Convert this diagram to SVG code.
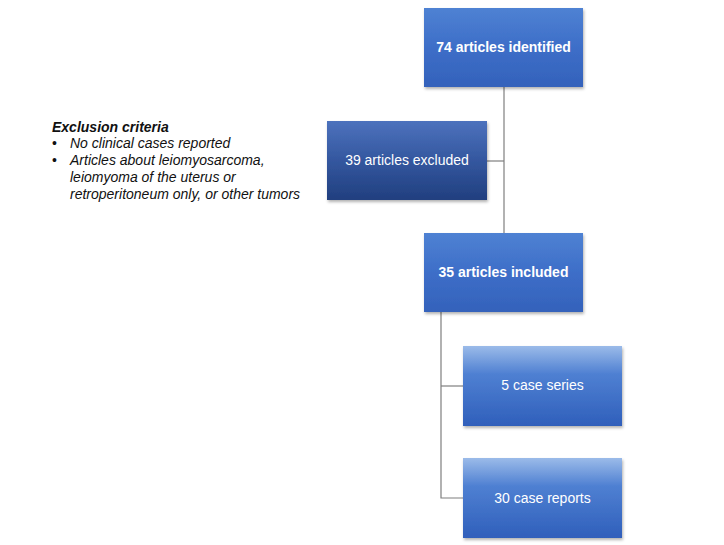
<svg xmlns="http://www.w3.org/2000/svg" width="724" height="545" viewBox="0 0 724 545">
<style>
.lbl{font-family:"Liberation Sans",Arial,sans-serif;font-size:14px;fill:#fff;text-anchor:middle}
.b{font-weight:bold}
.crit{font-family:"Liberation Sans",Arial,sans-serif;font-size:14px;fill:#111;font-style:italic}
.conn{stroke:#7f7f7f;stroke-width:1.2;fill:none}
</style>
<defs>
<linearGradient id="gA" x1="0" y1="0" x2="0" y2="1">
<stop offset="0" stop-color="#4f82d3"/>
<stop offset="0.5" stop-color="#3d6ec8"/>
<stop offset="1" stop-color="#3462bb"/>
</linearGradient>
<linearGradient id="gB" x1="0" y1="0" x2="0" y2="1">
<stop offset="0" stop-color="#4d72bd"/>
<stop offset="0.5" stop-color="#34579f"/>
<stop offset="1" stop-color="#213f7f"/>
</linearGradient>
<linearGradient id="gC" x1="0" y1="0" x2="0" y2="1">
<stop offset="0" stop-color="#9bbbe9"/>
<stop offset="0.35" stop-color="#4f80d2"/>
<stop offset="1" stop-color="#2f5fbb"/>
</linearGradient>
<filter id="sh" x="-10%" y="-10%" width="120%" height="125%">
<feDropShadow dx="1" dy="2" stdDeviation="1.5" flood-color="#000" flood-opacity="0.3"/>
</filter>
</defs>
<g id="connectors">
<path class="conn" d="M504 87 V233"/>
<path class="conn" d="M487 161 H504"/>
<path class="conn" d="M441 312 V498 H463"/>
<path class="conn" d="M441 386 H463"/>
</g>
<g id="n1">
<rect x="424" y="8" width="159" height="79" fill="url(#gA)" filter="url(#sh)"/>
<text class="lbl b" x="503.5" y="52">74 articles identified</text>
</g>
<g id="n2">
<rect x="327" y="121" width="160" height="79" fill="url(#gB)" filter="url(#sh)"/>
<text class="lbl" x="407" y="165">39 articles excluded</text>
</g>
<g id="n3">
<rect x="424" y="233" width="159" height="79" fill="url(#gA)" filter="url(#sh)"/>
<text class="lbl b" x="503.5" y="277">35 articles included</text>
</g>
<g id="n4">
<rect x="463" y="346" width="159" height="80" fill="url(#gC)" filter="url(#sh)"/>
<text class="lbl" x="542.5" y="390">5 case series</text>
</g>
<g id="n5">
<rect x="463" y="458" width="159" height="80" fill="url(#gC)" filter="url(#sh)"/>
<text class="lbl" x="542.5" y="503">30 case reports</text>
</g>
<g id="criteria">
<text class="crit" x="52" y="132" font-weight="bold">Exclusion criteria</text>
<text class="crit" x="52" y="148" font-style="normal" style="font-style:normal">•</text>
<text class="crit" x="70" y="148">No clinical cases reported</text>
<text class="crit" x="52" y="165" style="font-style:normal">•</text>
<text class="crit" x="70" y="165">Articles about leiomyosarcoma,</text>
<text class="crit" x="70" y="182">leiomyoma of the uterus or</text>
<text class="crit" x="70" y="199">retroperitoneum only, or other tumors</text>
</g>
</svg>
